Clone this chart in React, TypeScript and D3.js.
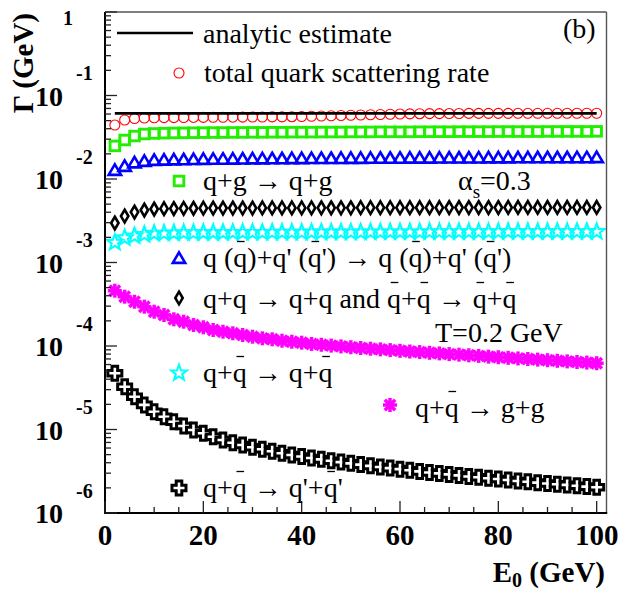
import React, { useLayoutEffect, useRef, useState } from 'react';
import * as d3 from 'd3';

// Incident quark energy E0 (GeV)
const energies = [
  2, 4, 6, 8, 10, 12, 14, 16, 18, 20, 22, 24, 26, 28, 30, 32, 34, 36, 38, 40,
  42, 44, 46, 48, 50, 52, 54, 56, 58, 60, 62, 64, 66, 68, 70, 72, 74, 76, 78, 80,
  82, 84, 86, 88, 90, 92, 94, 96, 98, 100,
];

// Analytic estimate of the total rate (GeV)
const analyticE = [2, 20, 40, 60, 80, 100];
const analyticRate = [0.061, 0.061, 0.061, 0.061, 0.061, 0.061];

// Total quark scattering rate (GeV)
const totalRate = [
  0.0443, 0.0509, 0.053, 0.0538, 0.0541, 0.0543, 0.0544, 0.0545, 0.0546, 0.0547,
  0.0548, 0.0549, 0.055, 0.0551, 0.0552, 0.0553, 0.0554, 0.0555, 0.0557, 0.056,
  0.0564, 0.0568, 0.0572, 0.0576, 0.058, 0.0584, 0.0588, 0.0592, 0.0596, 0.06,
  0.0603, 0.0605, 0.0606, 0.0607, 0.0608, 0.0609, 0.061, 0.061, 0.0611, 0.0611,
  0.0611, 0.0612, 0.0612, 0.0612, 0.0612, 0.0612, 0.0613, 0.0613, 0.0613, 0.0613,
];

// q+g -> q+g
const rateQG = [
  0.0249, 0.0293, 0.0327, 0.0346, 0.0351, 0.0354, 0.0356, 0.0357, 0.0358, 0.0359,
  0.036, 0.036, 0.0361, 0.0361, 0.0362, 0.0362, 0.0363, 0.0363, 0.0364, 0.0364,
  0.0364, 0.0365, 0.0365, 0.0365, 0.0366, 0.0366, 0.0366, 0.0367, 0.0367, 0.0367,
  0.0367, 0.0368, 0.0368, 0.0368, 0.0368, 0.0369, 0.0369, 0.0369, 0.0369, 0.037,
  0.037, 0.037, 0.037, 0.037, 0.0371, 0.0371, 0.0371, 0.0371, 0.0371, 0.0372,
];

// q(qbar)+q'(qbar') -> q(qbar)+q'(qbar')
const rateQQprime = [
  0.01282, 0.01431, 0.01576, 0.01643, 0.01689, 0.017, 0.01712, 0.0172, 0.01728, 0.01736,
  0.01741, 0.01746, 0.01751, 0.01756, 0.0176, 0.01763, 0.01766, 0.01769, 0.01772, 0.01774,
  0.01776, 0.01778, 0.0178, 0.01783, 0.01785, 0.01787, 0.01789, 0.01791, 0.01793, 0.01794,
  0.01796, 0.01798, 0.018, 0.01801, 0.01803, 0.01804, 0.01806, 0.01807, 0.01809, 0.0181,
  0.01811, 0.01813, 0.01814, 0.01815, 0.01816, 0.01817, 0.01818, 0.01819, 0.0182, 0.01821,
];

// q+q -> q+q and qbar+qbar -> qbar+qbar
const rateQQ = [
  0.00297, 0.0036, 0.00402, 0.00425, 0.00437, 0.00441, 0.00443, 0.00445, 0.00446, 0.00447,
  0.00448, 0.00448, 0.00449, 0.00449, 0.00449, 0.0045, 0.0045, 0.0045, 0.00451, 0.00451,
  0.00451, 0.00452, 0.00452, 0.00452, 0.00452, 0.00453, 0.00453, 0.00453, 0.00453, 0.00454,
  0.00454, 0.00454, 0.00454, 0.00454, 0.00455, 0.00455, 0.00455, 0.00455, 0.00455, 0.00455,
  0.00456, 0.00456, 0.00456, 0.00456, 0.00456, 0.00456, 0.00456, 0.00456, 0.00456, 0.00456,
];

// q+qbar -> q+qbar
const rateQQbar = [
  0.00174, 0.00197, 0.00208, 0.00216, 0.00223, 0.00224, 0.00226, 0.00227, 0.00227, 0.00228,
  0.00228, 0.00228, 0.00229, 0.00229, 0.00229, 0.00229, 0.0023, 0.0023, 0.0023, 0.0023,
  0.00231, 0.00231, 0.00231, 0.00231, 0.00231, 0.00231, 0.00232, 0.00232, 0.00232, 0.00232,
  0.00232, 0.00232, 0.00233, 0.00233, 0.00233, 0.00233, 0.00233, 0.00233, 0.00233, 0.00233,
  0.00234, 0.00234, 0.00234, 0.00234, 0.00234, 0.00234, 0.00234, 0.00234, 0.00234, 0.00234,
];

// q+qbar -> g+g
const rateQQbarGG = [
  4.595e-4, 3.895e-4, 3.392e-4, 2.955e-4, 2.575e-4, 2.351e-4, 2.088e-4, 1.954e-4, 1.784e-4, 1.675e-4,
  1.554e-4, 1.483e-4, 1.419e-4, 1.354e-4, 1.292e-4, 1.236e-4, 1.203e-4, 1.157e-4, 1.126e-4, 1.095e-4,
  1.057e-4, 1.034e-4, 1.011e-4, 9.89e-5, 9.67e-5, 9.46e-5, 9.28e-5, 9.11e-5, 8.93e-5, 8.76e-5,
  8.59e-5, 8.45e-5, 8.29e-5, 8.15e-5, 8.0e-5, 7.87e-5, 7.74e-5, 7.61e-5, 7.46e-5, 7.34e-5,
  7.22e-5, 7.1e-5, 6.99e-5, 6.87e-5, 6.76e-5, 6.65e-5, 6.54e-5, 6.43e-5, 6.33e-5, 6.22e-5,
];

// q+qbar -> q'+qbar'
const rateQQbarQpQp = [
  4.71e-5, 3.25e-5, 2.47e-5, 1.97e-5, 1.63e-5, 1.42e-5, 1.24e-5, 1.1e-5, 9.86e-6, 9.01e-6,
  8.2e-6, 7.49e-6, 6.95e-6, 6.52e-6, 6.12e-6, 5.79e-6, 5.48e-6, 5.19e-6, 4.95e-6, 4.75e-6,
  4.56e-6, 4.39e-6, 4.22e-6, 4.07e-6, 3.93e-6, 3.8e-6, 3.67e-6, 3.56e-6, 3.45e-6, 3.35e-6,
  3.25e-6, 3.15e-6, 3.06e-6, 2.98e-6, 2.9e-6, 2.82e-6, 2.74e-6, 2.68e-6, 2.61e-6, 2.55e-6,
  2.48e-6, 2.42e-6, 2.37e-6, 2.31e-6, 2.26e-6, 2.21e-6, 2.17e-6, 2.12e-6, 2.07e-6, 2.03e-6,
];

// Axis ticks
const xMajorTicks = [0, 20, 40, 60, 80, 100];
const xMinorTicks = [5, 10, 15, 25, 30, 35, 45, 50, 55, 65, 70, 75, 85, 90, 95];
const yDecadeExponents = [-6, -5, -4, -3, -2, -1, 0];
const yMinorMultipliers = [2, 3, 4, 5, 6, 7, 8, 9];

const FONT = '"Liberation Serif"';
const FS = 28;

const RED = '#ff0000';
const GREEN = '#22ee00';
const BLUE = '#0000ff';
const CYAN = '#00ffff';
const MAGENTA = '#ff00ff';

type Kind = 'circle' | 'square' | 'triangle' | 'diamond' | 'star' | 'asterisk' | 'cross';

const starPath = (() => {
  const pts: string[] = [];
  const ro = 8.2;
  const ri = 3.4;
  for (let i = 0; i < 10; i++) {
    const r = i % 2 === 0 ? ro : ri;
    const a = -Math.PI / 2 + (i * Math.PI) / 5;
    pts.push(`${(r * Math.cos(a)).toFixed(2)},${(r * Math.sin(a)).toFixed(2)}`);
  }
  return 'M' + pts.join('L') + 'Z';
})();

const crossPath = (() => {
  const s = 7;
  const a = 2.8;
  const p = [
    [-a, -s], [a, -s], [a, -a], [s, -a], [s, a], [a, a],
    [a, s], [-a, s], [-a, a], [-s, a], [-s, -a], [-a, -a],
  ];
  return 'M' + p.map((q) => q.join(',')).join('L') + 'Z';
})();

function Marker({ kind, cx, cy }: { kind: Kind; cx: number; cy: number }) {
  const t = `translate(${cx},${cy})`;
  switch (kind) {
    case 'circle':
      return <circle transform={t} r={5} fill="none" stroke={RED} strokeWidth={1.1} />;
    case 'square':
      return <rect transform={t} x={-4.8} y={-4.8} width={9.6} height={9.6} fill="none" stroke={GREEN} strokeWidth={2.9} />;
    case 'triangle':
      return <path transform={t} d="M0,-5.6L6.2,4.9L-6.2,4.9Z" fill="none" stroke={BLUE} strokeWidth={2.6} strokeLinejoin="miter" />;
    case 'diamond':
      return <path transform={t} d="M0,-6.3L3.7,0L0,6.3L-3.7,0Z" fill="none" stroke="#000" strokeWidth={2.6} />;
    case 'star':
      return <path transform={t} d={starPath} fill="none" stroke={CYAN} strokeWidth={2.1} strokeLinejoin="miter" />;
    case 'asterisk':
      return (
        <g transform={t} stroke={MAGENTA} strokeWidth={3.5} strokeLinecap="butt">
          <line x1={-7} y1={0} x2={7} y2={0} />
          <line x1={0} y1={-7} x2={0} y2={7} />
          <line x1={-5.2} y1={-5.2} x2={5.2} y2={5.2} />
          <line x1={-5.2} y1={5.2} x2={5.2} y2={-5.2} />
        </g>
      );
    case 'cross':
      return <path transform={t} d={crossPath} fill="#fff" stroke="#000" strokeWidth={3} />;
  }
}

// Antiquark "q": the bar above it is drawn afterwards as a short line,
// placed from the measured position of this glyph.
const QB = () => <tspan data-qbar="1">q</tspan>;

const textStyle = { fontFamily: FONT };

type BarSeg = { x1: number; x2: number; y: number };

export default function App() {
  const svgRef = useRef<SVGSVGElement>(null);
  const [bars, setBars] = useState<BarSeg[]>([]);

  useLayoutEffect(() => {
    const svg = svgRef.current;
    if (!svg) return;
    const measure = () => {
      const out: BarSeg[] = [];
      svg.querySelectorAll('tspan[data-qbar]').forEach((el) => {
        const ts = el as SVGTextContentElement;
        const ext = ts.getExtentOfChar(0);
        const cx = ext.x + ext.width / 2 + 0.5;
        out.push({ x1: cx - 3.8, x2: cx + 3.8, y: ext.y - 0.5 });
      });
      setBars(out);
    };
    measure();
    if ((document as any).fonts && (document as any).fonts.ready) {
      (document as any).fonts.ready.then(measure);
    }
  }, []);

  const x = d3.scaleLinear().domain([0, 102]).range([105, 606.5]);
  const y = d3.scaleLog().domain([1e-6, 1]).range([513, 12]);

  const left = x(0);
  const right = x(102);
  const top = y(1);
  const bottom = y(1e-6);

  const series: { kind: Kind; values: number[] }[] = [
    { kind: 'cross', values: rateQQbarQpQp },
    { kind: 'asterisk', values: rateQQbarGG },
    { kind: 'star', values: rateQQbar },
    { kind: 'diamond', values: rateQQ },
    { kind: 'triangle', values: rateQQprime },
    { kind: 'square', values: rateQG },
    { kind: 'circle', values: totalRate },
  ];

  const analyticLine = d3
    .line<number>()
    .x((_, i) => x(analyticE[i]))
    .y((d) => y(d))(analyticRate) as string;

  const yMinorTicks: number[] = [];
  yDecadeExponents.slice(0, -1).forEach((e) => {
    yMinorMultipliers.forEach((m) => yMinorTicks.push(m * Math.pow(10, e)));
  });

  return (
    <svg
      ref={svgRef}
      width={621}
      height={590}
      viewBox="0 0 621 590"
      style={{ position: 'absolute', left: 0, top: 0, display: 'block', background: '#fff', fontFamily: FONT }}
    >
      <rect x={0} y={0} width={621} height={590} fill="#fff" />

      {/* data markers */}
      {series.map((s) => (
        <g key={s.kind}>
          {s.values.map((v, i) => (
            <Marker key={i} kind={s.kind} cx={x(energies[i])} cy={y(v)} />
          ))}
        </g>
      ))}
      <path d={analyticLine} fill="none" stroke="#000" strokeWidth={2.7} />

      {/* frame */}
      <line x1={left} y1={top} x2={right} y2={top} stroke="#555" strokeWidth={1.4} />
      <line x1={right} y1={top} x2={right} y2={bottom} stroke="#555" strokeWidth={1.4} />
      <line x1={left} y1={bottom} x2={right + 0.7} y2={bottom} stroke="#000" strokeWidth={2} />
      <line x1={left} y1={top} x2={left} y2={bottom + 1} stroke="#000" strokeWidth={2} />

      {/* x ticks */}
      {xMajorTicks.map((t) => (
        <line key={'xM' + t} x1={x(t)} x2={x(t)} y1={bottom} y2={bottom - 12} stroke="#222" strokeWidth={1.3} />
      ))}
      {xMinorTicks.map((t) => (
        <line key={'xm' + t} x1={x(t)} x2={x(t)} y1={bottom} y2={bottom - 6} stroke="#222" strokeWidth={1.3} />
      ))}
      {xMajorTicks.map((t) => (
        <text key={'xl' + t} style={textStyle} x={x(t)} y={545} textAnchor="middle" fontWeight="bold" fontSize={29}>
          {t}
        </text>
      ))}

      {/* y ticks */}
      {yDecadeExponents.map((e) => (
        <line key={'yM' + e} x1={left} x2={left + 12} y1={y(Math.pow(10, e))} y2={y(Math.pow(10, e))} stroke="#222" strokeWidth={1.3} />
      ))}
      {yMinorTicks.map((t, i) => (
        <line key={'ym' + i} x1={left} x2={left + 6} y1={y(t)} y2={y(t)} stroke="#222" strokeWidth={1.3} />
      ))}
      {yDecadeExponents.map((e) => {
        const ty = y(Math.pow(10, e));
        if (e === 0) {
          return (
            <text key={'yl' + e} style={textStyle} x={73} y={25} textAnchor="end" fontWeight="bold" fontSize={20}>
              1
            </text>
          );
        }
        return (
          <g key={'yl' + e}>
            <text style={textStyle} x={63} y={ty + 10} textAnchor="end" fontWeight="bold" fontSize={28}>
              10
            </text>
            <text style={textStyle} x={76} y={ty - 15.5} fontWeight="bold" fontSize={20}>
              {String(e)}
            </text>
          </g>
        );
      })}

      {/* axis titles */}
      <text style={textStyle} x={605} y={582} textAnchor="end" fontWeight="bold" fontSize={29}>
        E<tspan dy={5} fontSize={20}>0</tspan>
        <tspan dy={-5}> (GeV)</tspan>
      </text>
      <text style={textStyle} transform="translate(33,13) rotate(-90)" textAnchor="end" fontWeight="bold" fontSize={29}>
        Γ (GeV)
      </text>

      {/* legend */}
      <line x1={117} x2={193} y1={33} y2={33} stroke="#000" strokeWidth={2.7} />
      <text style={textStyle} x={203} y={43} fontSize={FS}>analytic estimate</text>
      <Marker kind="circle" cx={179} cy={73} />
      <text style={textStyle} x={204} y={82} fontSize={FS}>total quark scattering rate</text>
      <text style={textStyle} x={563} y={38} fontSize={FS}>(b)</text>

      <Marker kind="square" cx={179} cy={181} />
      <text style={textStyle} x={203} y={190} fontSize={FS}>q+g → q+g</text>
      <text style={textStyle} x={458} y={190} fontSize={FS}>
        α<tspan dy={8} fontSize={19}>s</tspan>
        <tspan dy={-8}>=0.3</tspan>
      </text>

      <Marker kind="triangle" cx={179} cy={258} />
      <text style={textStyle} x={203} y={267} fontSize={FS}>
        q (<QB />)+q' (<QB />') → q (<QB />)+q' (<QB />')
      </text>

      <Marker kind="diamond" cx={179} cy={298} />
      <text style={textStyle} x={203} y={308} fontSize={FS}>
        q+q → q+q and <QB />+<QB /> → <QB />+<QB />
      </text>

      <text style={textStyle} x={435} y={342} fontSize={FS}>T=0.2 GeV</text>

      <Marker kind="star" cx={179} cy={373} />
      <text style={textStyle} x={203} y={382} fontSize={FS}>
        q+<QB /> → q+<QB />
      </text>

      <Marker kind="asterisk" cx={390} cy={405} />
      <text style={textStyle} x={415} y={417} fontSize={FS}>
        q+<QB /> → g+g
      </text>

      <Marker kind="cross" cx={179} cy={488} />
      <text style={textStyle} x={203} y={497} fontSize={FS}>
        q+<QB /> → q'+<QB />'
      </text>

      {/* antiquark bars */}
      {bars.map((b, i) => (
        <line key={'bar' + i} x1={b.x1} x2={b.x2} y1={b.y} y2={b.y} stroke="#000" strokeWidth={1.3} />
      ))}
    </svg>
  );
}
